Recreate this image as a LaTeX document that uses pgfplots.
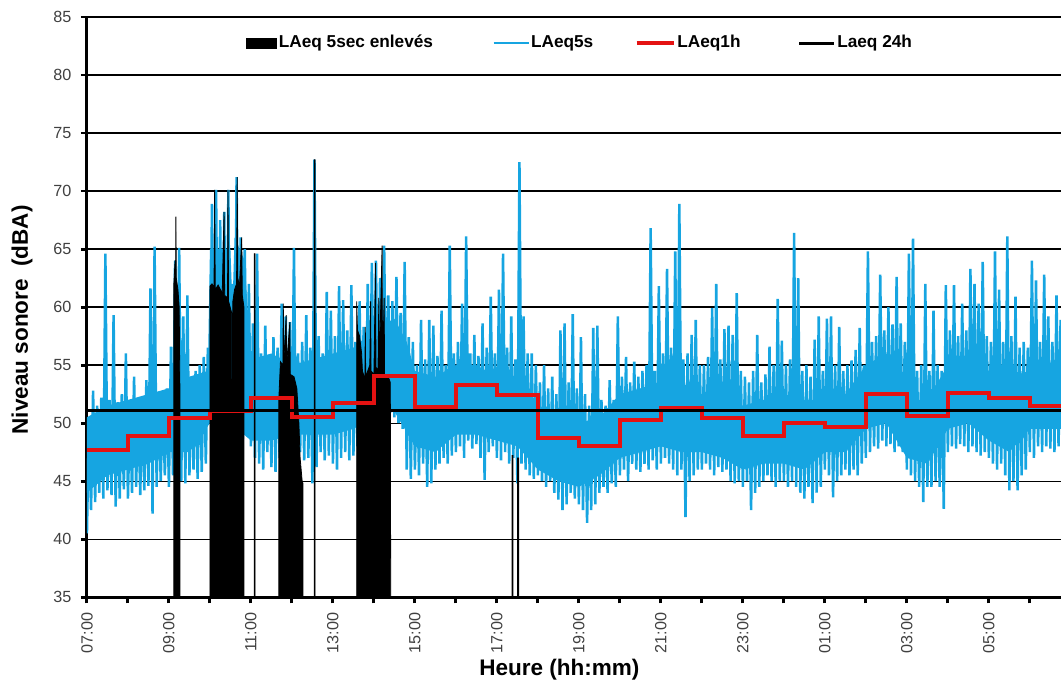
\documentclass[border=0pt]{standalone}
\usepackage{fontspec}
\setmainfont{Liberation Sans}
\usepackage{pgfplots}
\usepackage{pgfplotstable}
\pgfplotsset{compat=1.18}

\definecolor{lacyan}{RGB}{22,165,225}
\definecolor{lared}{RGB}{228,18,18}

% LAeq 5s, read off every 0.05 h from 07:00 (alternating low/high)
\pgfplotstableread[header=false,row sep=\\]{
40.5\\50.5\\42.5\\52.8\\43.2\\51.5\\44\\52.2\\43.5\\64.6\\44.2\\52\\43.8\\59.3\\42.8\\51.8\\43.5\\52.5\\44.3\\56\\
43.5\\51.5\\44\\54\\44.5\\52\\43.8\\51.8\\44.2\\53.7\\44.6\\61.6\\42.2\\65.2\\44.5\\52.5\\45\\52.3\\45.5\\53\\
44.5\\56.6\\45.5\\64\\46\\65.1\\45\\59.2\\44.8\\61\\45.5\\54\\46\\54.5\\45.2\\55\\45.8\\55.7\\46.5\\56.5\\
50\\68.9\\49\\70.1\\50\\67.5\\49.5\\68.2\\48.5\\70.1\\43.4\\62\\48\\71.2\\49\\66\\48.5\\65\\49.2\\62\\
48\\58.6\\47\\64.6\\46.5\\56\\46\\58.4\\47.5\\55.5\\46.2\\57.4\\45.8\\56.5\\47\\60.3\\46.5\\59.2\\47\\58.7\\
47\\65.1\\46.5\\56\\47.5\\57\\46.8\\59.3\\47\\56.5\\44.8\\72.7\\46.2\\57.5\\47.5\\56\\46.8\\61.3\\47.2\\59.7\\
46.5\\57.5\\46\\61.8\\47\\60.6\\47.5\\58\\46.8\\61.9\\47.2\\57\\48\\60.5\\48.5\\58.3\\49\\62\\48.5\\63.8\\
49\\64\\49.5\\62.5\\49\\65.3\\50\\61\\51\\60.5\\50.5\\62.6\\50\\59.5\\49.5\\63.9\\46\\57.4\\45.2\\57\\
46\\55\\45.5\\58.9\\46.5\\55.5\\44.5\\58.9\\44.8\\58.4\\46\\55.8\\46.5\\59.7\\47\\55\\46.5\\65.3\\47.2\\56\\
47.5\\57\\48\\60.3\\47\\66.1\\48.5\\56\\47.8\\57.6\\48.2\\55.8\\47\\58.6\\45.1\\56.5\\47.5\\60.9\\48\\56\\
47\\61.5\\46.8\\64.6\\47.5\\56.5\\46.5\\59.2\\47\\55.5\\44.8\\72.5\\46.5\\59.2\\46\\56\\45.5\\56\\45.2\\55\\
45.5\\53.5\\45\\55\\44.5\\53\\45\\54\\44\\52.5\\43.4\\58\\42.5\\58.6\\43\\53.5\\44\\59.4\\43.5\\53\\
43\\57.4\\42.5\\52.5\\41.4\\51.5\\42.5\\58.2\\43\\58.4\\44\\52\\44.5\\51.5\\44\\53.7\\44.8\\52\\44.5\\59.2\\
45.5\\54\\46\\55.7\\45\\53.5\\46.5\\55.3\\46\\54\\45.8\\54.5\\46.5\\55\\46\\66.8\\46.8\\54.5\\46\\61.8\\
46.5\\56\\47\\63.3\\46.5\\56.5\\46\\64.8\\45.5\\68.9\\46\\55.5\\41.9\\56\\45\\57.6\\45.5\\58.9\\46\\55\\
46\\55\\46.5\\55.7\\46\\59.9\\45.5\\62\\46.2\\55.5\\45.8\\58.1\\46\\58.4\\45\\57.6\\44.8\\61.2\\45\\54.5\\
44.5\\54\\45\\53.5\\42.5\\54.5\\44\\57.6\\44.5\\53.5\\45\\54.2\\45.5\\56.6\\45\\55\\44.5\\60.7\\45\\57.1\\
45\\55\\44.5\\55.5\\45\\66.4\\44.5\\62.5\\44\\54.5\\43.5\\55\\44.5\\54\\43.1\\57.2\\44\\59.2\\44.5\\54.5\\
46\\59\\45.5\\59.2\\43.6\\55\\45\\58.3\\45.5\\54.5\\46\\55\\45.5\\55.4\\46\\56.3\\45.5\\58.2\\46.5\\55\\
47\\64.8\\47.5\\57\\48\\57.5\\47.8\\62.8\\48.5\\58\\48\\60\\48.2\\58.5\\47.5\\62.6\\48\\58.6\\47.5\\57\\
46\\64.6\\45.5\\65.9\\45\\54.5\\44.5\\55\\43.2\\62\\44.5\\54.5\\44.5\\59.7\\45\\55\\44.5\\54.5\\42.6\\61.9\\
47.5\\58\\48\\61.9\\47.8\\57.5\\48.2\\60.3\\48\\58\\47.5\\63.3\\48\\62\\47.5\\60.3\\47.2\\63.9\\47.5\\57.5\\
47\\57\\46.5\\64.8\\46\\61.5\\46.5\\57\\45.5\\66.1\\44.2\\57.5\\45\\60.9\\44.2\\56.5\\45.5\\57\\46\\56.5\\
47.5\\64\\47\\62.3\\48\\57\\47.5\\62.8\\48\\59.2\\47.8\\57\\47.5\\61\\48\\58.9\\
}\lafive

\begin{document}
\begin{tikzpicture}
\begin{axis}[
    scale only axis,
    width=367.5pt,
    height=218.9pt,
    xmin=0, xmax=23.76,
    ymin=35, ymax=85,
    axis x line=box,
    axis y line=left,
    axis line style={-, line width=1.1pt},
    y axis line style={-},
    xtick pos=left, ytick pos=left,
    tick align=outside,
    major tick length=2.3pt,
    tick style={line width=1.1pt, black},
    xtick={0,...,23},
    xticklabels={07:00,,09:00,,11:00,,13:00,,15:00,,17:00,,19:00,,21:00,,23:00,,01:00,,03:00,,05:00,},
    ytick={35,40,...,85},
    ymajorgrids,
    grid style={black, line width=0.45pt},
    /pgf/number format/assume math mode=true,
    xticklabel style={rotate=90, anchor=east, font=\fontsize{6.1}{7}\selectfont, text=black!75},
    yticklabel style={font=\fontsize{6.1}{7}\selectfont, text=black!75},
    every axis x label/.style={at={(rel axis cs:0.485,0)}, anchor=center, yshift=-27.5pt},
    every axis y label/.style={at={(rel axis cs:0,0.478)}, rotate=90, anchor=center, yshift=24.5pt},
    label style={font=\fontsize{8.5}{10}\selectfont\bfseries},
    xlabel={Heure (hh:mm)},
    ylabel={Niveau sonore \ (dBA)},
    legend columns=4,
    legend style={at={(rel axis cs:0.163,0.955)}, anchor=west, draw=none, fill=white,
        inner sep=0pt, font=\fontsize{6.5}{7}\selectfont\bfseries,
        nodes={inner sep=0.6pt},
        /tikz/column 2/.style={column sep=22pt},
        /tikz/column 4/.style={column sep=15pt},
        /tikz/column 6/.style={column sep=21pt}},
]
% dense core of the LAeq5s band (upper edge forward, lower edge back)
\addplot[fill=lacyan, draw=none, forget plot] coordinates {
(0,50.5)(0.5,51.5)(1,52)(1.5,52.5)(2,53)(2.5,54)(2.95,54.5)(3.0,65)(3.5,65)(3.55,60)(3.6,66)(3.85,64)(3.95,58)
(4.0,55.5)(4.5,56)(5,55)(5.5,55.5)(6,56)(6.5,56.5)(7,58)(7.5,59)(7.8,57)(8,54.5)(8.5,54)(9,55)(9.5,55)
(10,54)(10.5,53.5)(11,51.5)(11.5,51)(12,50)(12.5,50.5)(13,52.5)(13.5,53)(14,53.5)(14.5,53.5)(15,52.5)(15.5,52.5)
(16,51.5)(16.5,52)(17,52.5)(17.5,52)(18,52)(18.5,52.5)(19,55)(19.5,56)(20,52)(20.5,52)(21,55)(21.5,56)
(22,54.5)(22.5,54)(23,54.5)(23.5,55)(23.8,55)
(23.8,49.5)(23.5,49.5)(23,49.5)(22.5,47.5)(22,48.5)(21.5,50)(21,49.5)(20.5,46.5)(20,47)(19.5,50)(19,49.5)
(18.5,47.5)(18,47.5)(17.5,46)(17,46.5)(16.5,46.5)(16,46)(15.5,47)(15,47.5)(14.5,47.5)(14,48)(13.5,47.5)(13,47)
(12.5,45.5)(12,44.5)(11.5,45)(11,46)(10.5,48)(10,48.5)(9.5,49)(9,49)(8.5,47.5)(8,48)(7.5,51)(7,50.5)
(6.5,49.5)(6,49)(5.5,49)(5,49)(4.5,48.5)(4,48.5)(3.5,50)(3,50)(2.5,47.5)(2,47.5)(1.5,46.5)(1,46)(0.5,45.5)(0,44)
};
\addplot[lacyan, line width=0.95pt, forget plot] table[x expr=\coordindex*0.05, y index=0] {\lafive};

\addplot[fill=black, draw=black, line width=0.3pt, forget plot] coordinates {
(2.12,35)(2.12,62)(2.15,64)(2.165,64)(2.17,67.8)(2.18,62.5)(2.22,61.5)(2.25,60)(2.27,52)(2.27,35)
(3.0,35)(3.0,61.8)(3.05,62)(3.1,61.7)(3.115,70.1)(3.13,61.5)(3.2,61.9)(3.3,61.2)(3.345,68.2)(3.36,61)(3.43,60.8)(3.44,70.1)(3.455,60.5)(3.53,59.5)(3.54,35)
(3.56,35)(3.56,60.5)(3.6,61.5)(3.65,62)(3.665,71.2)(3.68,62.5)(3.72,61.8)(3.775,66)(3.79,61)(3.83,60)(3.83,35)
(4.08,35)(4.08,64.6)(4.1,64.6)(4.1,35)
(4.68,35)(4.68,52)(4.72,55.3)(4.78,55)(4.79,60.3)(4.8,55.2)(4.86,59.3)(4.87,55)(4.95,58.7)(4.96,54.2)(5.05,54)(5.12,53)(5.17,50)(5.2,47)(5.25,45)(5.27,44.8)(5.27,35)
(5.545,35)(5.545,72.7)(5.565,72.7)(5.565,35)
(6.58,35)(6.58,60.5)(6.6,58)(6.65,57.5)(6.7,56)(6.72,54.5)(6.78,53.8)(6.79,58.3)(6.8,54)(6.9,55)(6.92,60.5)(6.93,54.5)(7.0,54.2)(7.04,63.8)(7.05,54.8)(7.1,54.6)(7.12,60.8)(7.13,54.5)(7.2,65.3)(7.21,54.3)(7.25,60.8)(7.26,54)(7.3,53.8)(7.35,54)(7.4,53.5)(7.41,35)
(10.37,35)(10.37,47.2)(10.39,47.2)(10.39,35)
(10.5,35)(10.5,47)(10.53,47)(10.53,35)
};

\addplot[lared, line width=1.5pt, const plot, forget plot] coordinates {
(0,47.7)(1,48.9)(2,50.4)(3,51.0)(4,52.2)(5,50.5)(6,51.7)(7,54.1)(8,51.4)(9,53.3)(10,52.4)(11,48.7)
(12,48.0)(13,50.3)(14,51.3)(15,50.4)(16,48.9)(17,50.0)(18,49.7)(19,52.5)(20,50.6)(21,52.6)(22,52.2)(23,51.5)(24,51.5)
};

\addplot[black, line width=1.1pt, forget plot] coordinates {(0,51.1)(24,51.1)};

\addlegendimage{legend image code/.code={\fill[black] (0pt,-1.9pt) rectangle (11.3pt,1.9pt);}}
\addlegendimage{legend image code/.code={\draw[lacyan, line width=0.6pt] (0pt,0pt) -- (13.2pt,0pt);}}
\addlegendimage{legend image code/.code={\draw[lared, line width=1.5pt] (0pt,0pt) -- (14pt,0pt);}}
\addlegendimage{legend image code/.code={\draw[black, line width=1.1pt] (0pt,0pt) -- (13.2pt,0pt);}}
\legend{LAeq 5sec enlevés, LAeq5s, LAeq1h, Laeq 24h}

\coordinate (sw) at (rel axis cs:0,0);
\coordinate (ne) at (rel axis cs:1,1);
\end{axis}
\pgfresetboundingbox
\path ([xshift=-32.8pt,yshift=-34.3pt]sw) rectangle ([yshift=6.4pt]ne);
\end{tikzpicture}
\end{document}
